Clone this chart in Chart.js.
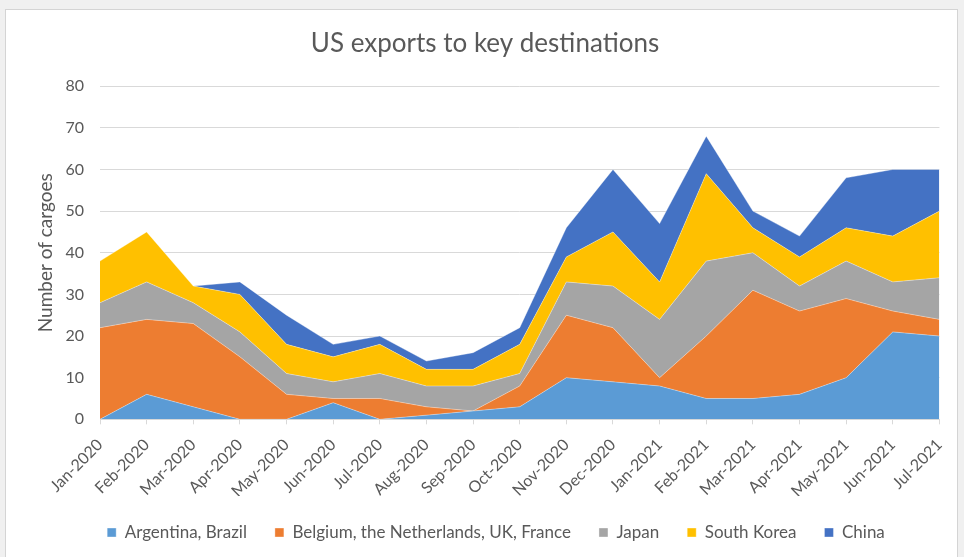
<!DOCTYPE html>
<html>
<head>
<meta charset="utf-8">
<script src="https://cdn.jsdelivr.net/npm/chart.js@4/dist/chart.umd.min.js"></script>
<style>
  html, body { margin: 0; padding: 0; background: #f0f0f0; }
  #frame { position: absolute; left: 5px; top: 9px; width: 951px; height: 548px; background: #fff; border: 1px solid #d4d4d4; border-bottom: none; }
  #wrap { position: absolute; left: -6px; top: -10px; width: 964px; height: 557px; }
</style>
</head>
<body>
<div id="frame"><div id="wrap"><canvas id="myChart" width="964" height="557"></canvas></div></div>
<script>
const months = ['Jan-2020', 'Feb-2020', 'Mar-2020', 'Apr-2020', 'May-2020', 'Jun-2020', 'Jul-2020', 'Aug-2020', 'Sep-2020', 'Oct-2020',
    'Nov-2020', 'Dec-2020', 'Jan-2021', 'Feb-2021', 'Mar-2021', 'Apr-2021', 'May-2021', 'Jun-2021', 'Jul-2021'];

// cargoes per destination group
const argentinaBrazil = [0, 6, 3, 0, 0, 4, 0, 1, 2, 3, 10, 9, 8, 5, 5, 6, 10, 21, 20];
const europe = [22, 18, 20, 15, 6, 1, 5, 2, 0, 5, 15, 13, 2, 15, 26, 20, 19, 5, 4];
const japan = [6, 9, 5, 6, 5, 4, 6, 5, 6, 3, 8, 10, 14, 18, 9, 6, 9, 7, 10];
const southKorea = [10, 12, 4, 9, 7, 6, 7, 4, 4, 7, 6, 13, 9, 21, 6, 7, 8, 11, 16];
const china = [0, 0, 0, 3, 7, 3, 2, 2, 4, 4, 7, 15, 14, 9, 4, 5, 12, 16, 10];

const yTicks = [0, 10, 20, 30, 40, 50, 60, 70, 80];

const textColor = '#595959';
const font = "Lato, 'Open Sans', sans-serif";

function area(label, data, color, fill) {
    return {
        label: label,
        data: data,
        backgroundColor: color,
        borderColor: 'rgba(255,255,255,0.35)',
        borderWidth: 1,
        pointRadius: 0,
        pointHoverRadius: 0,
        tension: 0,
        fill: fill
    };
}

// legend is a little right of centre in the original
const legendNudge = {
    id: 'legendNudge',
    afterLayout(chart) {
        chart.legend.left += 11;
        chart.legend.right += 11;
    }
};

new Chart(document.getElementById('myChart'), {
    type: 'line',
    data: {
        labels: months,
        datasets: [
            area('Argentina, Brazil', argentinaBrazil, '#5B9BD5', 'origin'),
            area('Belgium, the Netherlands, UK, France', europe, '#ED7D31', '-1'),
            area('Japan', japan, '#A5A5A5', '-1'),
            area('South Korea', southKorea, '#FFC000', '-1'),
            area('China', china, '#4472C4', '-1')
        ]
    },
    options: {
        responsive: false,
        animation: false,
        layout: { padding: { left: 30, right: 24, top: 8, bottom: 6 } },
        plugins: {
            title: {
                display: true,
                text: 'US exports to key destinations',
                color: textColor,
                font: { family: font, size: 26, weight: 'normal' },
                padding: { top: 20, bottom: 27 }
            },
            legend: {
                position: 'bottom',
                labels: {
                    color: textColor,
                    font: { family: font, size: 17 },
                    boxWidth: 9,
                    boxHeight: 9,
                    padding: 28
                }
            },
            tooltip: { enabled: false }
        },
        scales: {
            x: {
                offset: false,
                afterFit: (s) => { s.height -= 16; },
                grid: { drawOnChartArea: false, drawTicks: true, tickLength: 5, color: '#d9d9d9' },
                border: { color: '#d9d9d9' },
                ticks: {
                    color: textColor,
                    font: { family: font, size: 16 },
                    minRotation: 45,
                    maxRotation: 45,
                    autoSkip: false,
                    padding: 11
                }
            },
            y: {
                stacked: true,
                min: 0,
                max: 80,
                afterBuildTicks: (s) => { s.ticks = yTicks.map(v => ({ value: v })); },
                afterFit: (s) => { s.width = 70; },
                grid: { color: '#d9d9d9', drawTicks: false },
                border: { display: false },
                ticks: {
                    color: textColor,
                    font: { family: font, size: 16 },
                    padding: 16
                },
                title: {
                    display: true,
                    text: 'Number of cargoes',
                    color: textColor,
                    font: { family: font, size: 19 },
                    padding: { top: 4, bottom: 0 }
                }
            }
        }
    },
    plugins: [legendNudge]
});
</script>
</body>
</html>
